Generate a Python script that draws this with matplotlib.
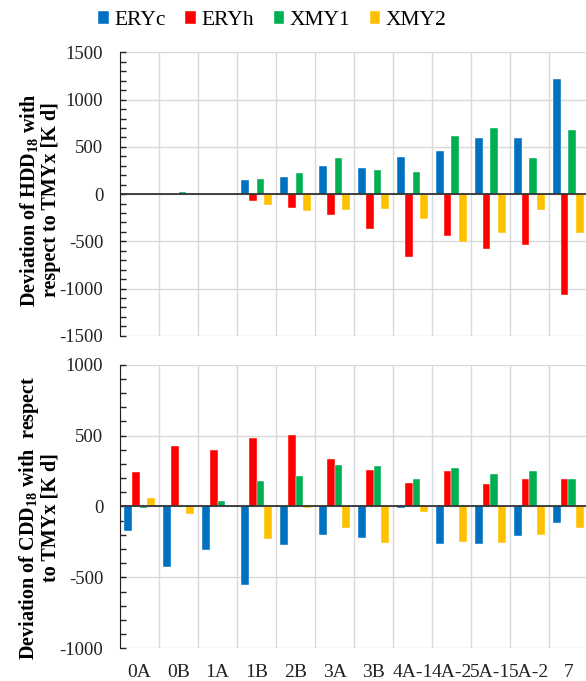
import numpy as np
import matplotlib.pyplot as plt
from matplotlib.ticker import MultipleLocator

zones = ['0A', '0B', '1A', '1B', '2B', '3A', '3B', '4A-1', '4A-2', '5A-1', '5A-2', '7']
series = ['ERYc', 'ERYh', 'XMY1', 'XMY2']
colors = ['#0070C0', '#FF0000', '#00B050', '#FFC000']

# HDD18 deviations [K d]
hdd_eryc = [0, 0, 0, 145, 185, 295, 280, 390, 460, 595, 595, 1220]
hdd_eryh = [0, 0, 0, -75, -145, -225, -375, -665, -445, -580, -540, -1070]
hdd_xmy1 = [0, 20, 0, 155, 228, 384, 252, 238, 620, 705, 380, 675]
hdd_xmy2 = [0, 0, 0, -118, -175, -170, -155, -265, -510, -415, -170, -415]

# CDD18 deviations [K d]
cdd_eryc = [-175, -430, -310, -555, -275, -200, -225, -10, -265, -265, -210, -115]
cdd_eryh = [240, 425, 395, 485, 505, 333, 260, 168, 250, 160, 195, 195]
cdd_xmy1 = [-10, 0, 40, 180, 215, 296, 286, 196, 270, 230, 250, 195]
cdd_xmy2 = [60, -55, 0, -230, -10, -150, -260, -40, -250, -260, -200, -150]

plt.rcParams['font.family'] = 'Liberation Serif'
plt.rcParams['axes.unicode_minus'] = False
plt.rcParams['mathtext.fontset'] = 'custom'
plt.rcParams['mathtext.rm'] = 'Liberation Serif'
plt.rcParams['mathtext.bf'] = 'Liberation Serif:bold'

fig = plt.figure(figsize=(5.86, 6.81), dpi=100)
ax1 = fig.add_axes([0.2048, 0.507, 0.7986, 0.416])
ax2 = fig.add_axes([0.2048, 0.048, 0.7986, 0.4165])

x = np.arange(len(zones))
w = 0.197


def draw(ax, data, lim, ylabel):
    for i, (vals, c, name) in enumerate(zip(data, colors, series)):
        ax.bar(x + (i - 1.5) * w, vals, w, color=c, label=name,
               edgecolor='white', linewidth=0.3, zorder=3)
    ax.set_xlim(-0.5, len(zones) - 0.5)
    ax.set_ylim(-lim, lim)
    ax.yaxis.set_major_locator(MultipleLocator(500))
    ax.yaxis.set_minor_locator(MultipleLocator(100))
    for b in np.arange(-0.5, len(zones), 1):
        ax.axvline(b, color='#d9d9d9', lw=1, zorder=1)
    for v in np.arange(-lim, lim + 1, 500):
        ax.axhline(v, color='#d9d9d9', lw=1, zorder=1)
    ax.axhline(0, color='#333333', lw=1.3, zorder=4)
    for s in ['top', 'right', 'bottom']:
        ax.spines[s].set_visible(False)
    ax.spines['left'].set_color('#222222')
    ax.spines['left'].set_zorder(5)
    ax.tick_params(axis='y', which='both', direction='in', length=4,
                   width=1, color='#222222', pad=12, labelsize=13.5,
                   labelcolor='#222222')
    ax.tick_params(axis='x', length=0, labelsize=14, labelcolor='#222222', pad=11)
    ax.set_ylabel(ylabel, fontsize=14.5, fontweight='bold', linespacing=0.95)


draw(ax1, [hdd_eryc, hdd_eryh, hdd_xmy1, hdd_xmy2], 1500,
     'Deviation of HDD$_{\\mathbf{18}}$ with\nrespect to TMYx [K d]')
ax1.set_xticks(x)
ax1.set_xticklabels([])
ax1.yaxis.set_label_coords(-0.127, 0.48)

draw(ax2, [cdd_eryc, cdd_eryh, cdd_xmy1, cdd_xmy2], 1000,
     'Deviation of CDD$_{\\mathbf{18}}$ with  respect\nto TMYx [K d]')
ax2.set_xticks(x)
ax2.set_xticklabels(zones)
ax2.yaxis.set_label_coords(-0.127, 0.46)

handles, labels = ax1.get_legend_handles_labels()
fig.legend(handles, labels, loc='upper center', bbox_to_anchor=(0.465, 1.012),
           ncol=4, frameon=False, fontsize=15.5, handlelength=0.5,
           handleheight=0.5, handletextpad=0.25, columnspacing=0.9)

fig.savefig('out.png', dpi=100)
